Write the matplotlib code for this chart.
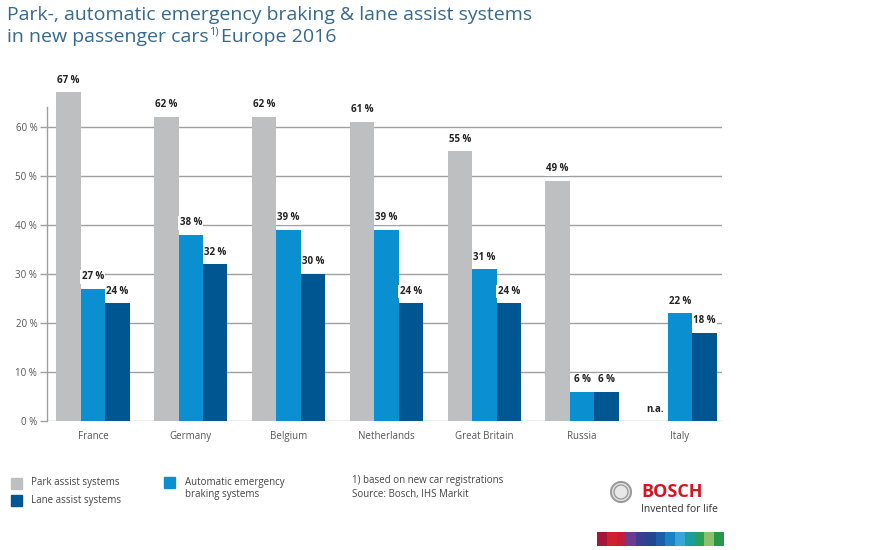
import numpy as np
import matplotlib
matplotlib.use("Agg")
import matplotlib.pyplot as plt
from matplotlib.patches import Rectangle, Circle

plt.rcParams['font.family'] = ['Open Sans', 'DejaVu Sans']

countries = ['France', 'Germany', 'Belgium', 'Netherlands', 'Great Britain', 'Russia', 'Italy']
park = [67, 62, 62, 61, 55, 49, None]
aeb = [27, 38, 39, 39, 31, 6, 22]
lane = [24, 32, 30, 24, 24, 6, 18]
yticks = [0, 10, 20, 30, 40, 50, 60]

c_park = '#bebfc1'
c_aeb = '#0a8fd0'
c_lane = '#005691'
c_grid = '#a0a0a0'
c_title = '#35698f'
c_text = '#444444'

fig = plt.figure(figsize=(8.7, 5.5), dpi=100)
ax = fig.add_axes([47/870, 1-421/550, 675/870, 314/550])
ax.set_xlim(-0.47, 6.43)
ax.set_ylim(0, 64)

for y in yticks:
    ax.axhline(y, color=c_grid, lw=1, zorder=1)

x = np.arange(len(countries))
w = 0.25
lbl = dict(ha='center', va='bottom', fontsize=7, fontweight='bold', color='#222222', zorder=4,
           bbox=dict(facecolor='white', edgecolor='none', pad=1.0))
for i in range(len(countries)):
    if park[i] is not None:
        ax.bar(x[i]-w, park[i], w, color=c_park, zorder=2, clip_on=False)
        ax.text(x[i]-w, park[i]+1.3, f'{park[i]} %', clip_on=False, **lbl)
    else:
        ax.text(x[i]-w, 1.2, 'n.a.', clip_on=False, **lbl)
    ax.bar(x[i], aeb[i], w, color=c_aeb, zorder=2, clip_on=False)
    ax.text(x[i], aeb[i]+1.3, f'{aeb[i]} %', clip_on=False, **lbl)
    ax.bar(x[i]+w, lane[i], w, color=c_lane, zorder=2, clip_on=False)
    ax.text(x[i]+w, lane[i]+1.3, f'{lane[i]} %', clip_on=False, **lbl)

for s in ['top', 'right', 'bottom']:
    ax.spines[s].set_visible(False)
ax.spines['left'].set_color(c_grid)
ax.spines['left'].set_linewidth(1)
ax.set_yticks(yticks)
ax.set_yticklabels([f'{t} %' for t in yticks], fontsize=7, color='#555555')
ax.tick_params(axis='y', length=5, color=c_grid, width=1, pad=2)
ax.set_xticks(x)
ax.set_xticklabels(countries, fontsize=7, color='#555555')
ax.tick_params(axis='x', length=0, pad=7)

fig.text(7/870, 1-20/550, 'Park-, automatic emergency braking & lane assist systems',
         fontsize=14, color=c_title, va='baseline')
t2 = fig.text(7/870, 1-42/550, 'in new passenger cars',
              fontsize=14, color=c_title, va='baseline')
fig.canvas.draw()
bb = t2.get_window_extent()
sup = fig.text(bb.x1/870 + 0.001, 1-34/550, '1)', fontsize=8, color=c_title, va='baseline')
bb2 = sup.get_window_extent(fig.canvas.get_renderer())
fig.text(bb2.x1/870 + 0.002, 1-42/550, 'Europe 2016', fontsize=14, color=c_title, va='baseline')

# legend
fig.patches.append(Rectangle((11/870, 1-489/550), 11/870, 11/550, transform=fig.transFigure,
                             color=c_park))
fig.patches.append(Rectangle((11/870, 1-506/550), 11/870, 11/550, transform=fig.transFigure,
                             color=c_lane))
fig.patches.append(Rectangle((164/870, 1-488/550), 11/870, 11/550, transform=fig.transFigure,
                             color=c_aeb))
fig.text(31/870, 1-483/550, 'Park assist systems', fontsize=7, color=c_text, va='center')
fig.text(31/870, 1-500/550, 'Lane assist systems', fontsize=7, color=c_text, va='center')
fig.text(185/870, 1-483/550, 'Automatic emergency', fontsize=7, color=c_text, va='center')
fig.text(185/870, 1-494/550, 'braking systems', fontsize=7, color=c_text, va='center')
fig.text(352/870, 1-481/550, '1) based on new car registrations', fontsize=7, color=c_text, va='center')
fig.text(352/870, 1-494/550, 'Source: Bosch, IHS Markit', fontsize=7, color=c_text, va='center')

# logo
lax = fig.add_axes([0, 0, 1, 1], facecolor='none')
lax.set_xlim(0, 870)
lax.set_ylim(550, 0)
lax.axis('off')
lax.add_patch(Circle((621, 492), 10, facecolor='#e8e8e8', edgecolor='#9a9a9a', lw=1.5))
lax.add_patch(Circle((621, 492), 7, facecolor='none', edgecolor='#9a9a9a', lw=1))
lax.text(641, 492, 'BOSCH', fontsize=13, fontweight='bold', color='#d7151f', va='center')
lax.text(641, 509, 'Invented for life', fontsize=7.5, color='#333333', va='center')
strip = ['#a0183a', '#d1202d', '#c21e3b', '#6c3b8e', '#3a3e8f', '#24468f', '#1c5ea8',
         '#1b82c4', '#3aa5d8', '#1a9e9e', '#28a05a', '#8cc06a', '#27984a']
sw = 127/len(strip)
for k, c in enumerate(strip):
    lax.add_patch(Rectangle((597+k*sw, 532), sw+0.3, 14, color=c, lw=0))

fig.savefig('out.png', dpi=100)
